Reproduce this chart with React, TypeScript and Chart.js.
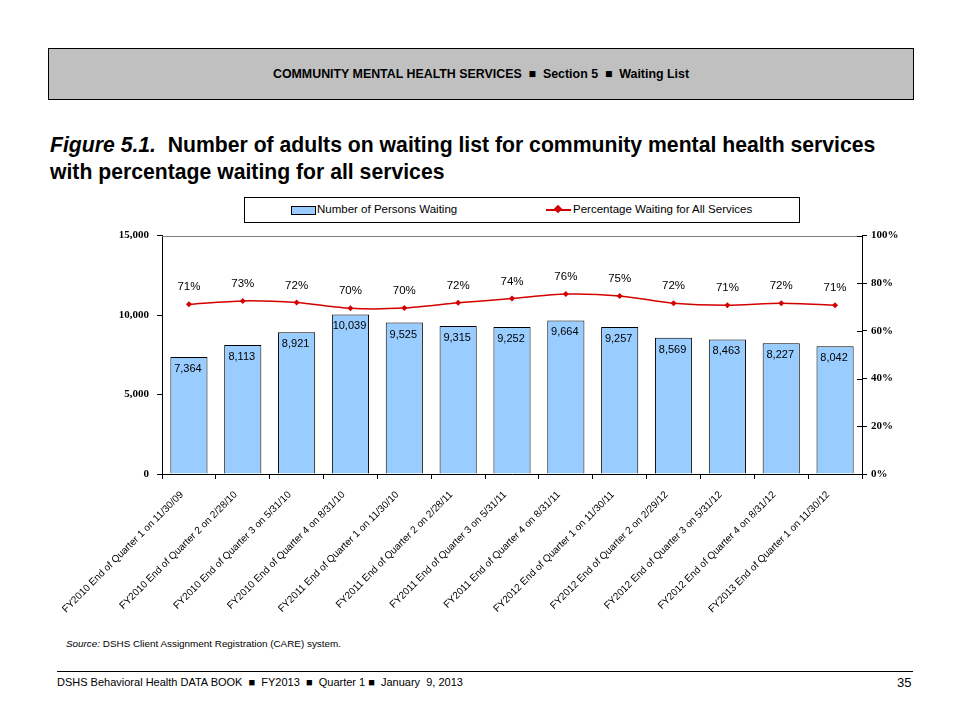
import React, { useEffect, useRef } from 'react';
import { Chart, registerables } from 'chart.js';

Chart.register(...registerables);

const categories = [
  'FY2010 End of Quarter 1 on 11/30/09',
  'FY2010 End of Quarter 2 on 2/28/10',
  'FY2010 End of Quarter 3 on 5/31/10',
  'FY2010 End of Quarter 4 on 8/31/10',
  'FY2011 End of Quarter 1 on 11/30/10',
  'FY2011 End of Quarter 2 on 2/28/11',
  'FY2011 End of Quarter 3 on 5/31/11',
  'FY2011 End of Quarter 4 on 8/31/11',
  'FY2012 End of Quarter 1 on 11/30/11',
  'FY2012 End of Quarter 2 on 2/29/12',
  'FY2012 End of Quarter 3 on 5/31/12',
  'FY2012 End of Quarter 4 on 8/31/12',
  'FY2013 End of Quarter 1 on 11/30/12',
];
const personsWaiting = [7364, 8113, 8921, 10039, 9525, 9315, 9252, 9664, 9257, 8569, 8463, 8227, 8042];
const percentWaiting = [71.2, 72.6, 71.9, 69.5, 69.6, 71.8, 73.6, 75.5, 74.7, 71.6, 70.8, 71.6, 70.8];
const percentLabels = ['71%', '73%', '72%', '70%', '70%', '72%', '74%', '76%', '75%', '72%', '71%', '72%', '71%'];
const leftTickStep = 5000;
const leftMax = 15000;
const rightTickStep = 20;
const rightMax = 100;

const SANS = '"Liberation Sans", Arial, sans-serif';
const SERIF = '"Liberation Serif", "Times New Roman", serif';

const labelPlugin = {
  id: 'customLabels',
  afterDatasetsDraw(chart: any) {
    const ctx = chart.ctx;
    ctx.save();
    ctx.fillStyle = '#000';
    ctx.font = `11px ${SANS}`;
    ctx.textAlign = 'center';
    ctx.textBaseline = 'alphabetic';
    const barMeta = chart.getDatasetMeta(0);
    barMeta.data.forEach((bar: any, i: number) => {
      ctx.fillText(personsWaiting[i].toLocaleString('en-US'), bar.x - 1, bar.y + 15);
    });
    ctx.font = `11.5px ${SANS}`;
    const lineMeta = chart.getDatasetMeta(1);
    lineMeta.data.forEach((pt: any, i: number) => {
      ctx.fillText(percentLabels[i], pt.x, pt.y - 14);
    });
    ctx.restore();
  },
  afterDraw(chart: any) {
    const ctx = chart.ctx;
    const a = chart.chartArea;
    ctx.save();
    ctx.strokeStyle = '#808080';
    ctx.lineWidth = 1;
    ctx.beginPath();
    ctx.moveTo(a.left, Math.round(a.top) + 0.5);
    ctx.lineTo(a.right, Math.round(a.top) + 0.5);
    ctx.stroke();
    const y1 = chart.scales.y1;
    ctx.strokeStyle = '#000';
    y1.ticks.forEach((t: any) => {
      const py = Math.round(y1.getPixelForValue(t.value)) + 0.5;
      ctx.beginPath();
      ctx.moveTo(a.right - 5, py);
      ctx.lineTo(a.right, py);
      ctx.stroke();
    });
    ctx.restore();
  },
};

function ChartCanvas() {
  const ref = useRef<HTMLCanvasElement>(null);
  useEffect(() => {
    if (!ref.current) return;
    const chart = new Chart(ref.current, {
      type: 'bar',
      data: {
        labels: categories,
        datasets: [
          {
            type: 'bar',
            label: 'Number of Persons Waiting',
            data: personsWaiting,
            backgroundColor: '#99ccff',
            borderColor: '#000000',
            borderWidth: 1,
            barPercentage: 0.69,
            categoryPercentage: 1,
            yAxisID: 'y',
            order: 2,
          },
          {
            type: 'line',
            label: 'Percentage Waiting for All Services',
            data: percentWaiting,
            borderColor: '#d40000',
            backgroundColor: '#d40000',
            borderWidth: 1.5,
            pointRadius: 3,
            pointStyle: 'rectRot',
            pointBorderWidth: 0,
            tension: 0.25,
            yAxisID: 'y1',
            order: 1,
          } as any,
        ],
      },
      options: {
        responsive: false,
        animation: false,
        layout: { padding: { top: 10, left: 0, right: 0, bottom: 0 } },
        plugins: {
          legend: { display: false },
          tooltip: { enabled: false },
        },
        scales: {
          x: {
            grid: { display: true, drawOnChartArea: false, tickLength: 5, color: '#000' },
            border: { display: true, color: '#000' },
            ticks: {
              autoSkip: false,
              maxRotation: 45,
              minRotation: 45,
              color: '#000',
              font: { family: SANS, size: 10 },
              padding: 10,
              labelOffset: -7,
            },
            afterFit: (s: any) => { s.height = 152; },
          },
          y: {
            position: 'left',
            min: 0,
            max: leftMax,
            grid: { display: true, drawOnChartArea: false, tickLength: 5, color: '#000' },
            border: { display: true, color: '#000' },
            ticks: {
              stepSize: leftTickStep,
              color: '#000',
              padding: 8,
              font: { family: SERIF, size: 11, weight: 'bold' },
              callback: (v: any) => Number(v).toLocaleString('en-US'),
            },
            afterFit: (s: any) => { s.width = 122; },
          },
          y1: {
            position: 'right',
            min: 0,
            max: rightMax,
            grid: { display: true, drawOnChartArea: false, tickLength: 5, color: '#000' },
            border: { display: true, color: '#000' },
            ticks: {
              stepSize: rightTickStep,
              color: '#000',
              padding: 4,
              font: { family: SERIF, size: 11, weight: 'bold' },
              callback: (v: any) => `${v}%`,
            },
            afterFit: (s: any) => { s.width = 58; },
          },
        },
      },
      plugins: [labelPlugin],
    });
    return () => chart.destroy();
  }, []);
  return (
    <canvas
      ref={ref}
      width={880}
      height={405}
      style={{ position: 'absolute', left: 40, top: 221, width: 880, height: 405 }}
    />
  );
}

export default function App() {
  return (
    <div
      style={{
        position: 'absolute',
        left: 0,
        top: 0,
        width: 960,
        height: 720,
        background: '#fff',
        fontFamily: SANS,
        overflow: 'hidden',
      }}
    >
      <div
        style={{
          position: 'absolute',
          left: 48,
          top: 48,
          width: 864,
          height: 50,
          background: '#c0c0c0',
          border: '1px solid #000',
          display: 'flex',
          alignItems: 'center',
          justifyContent: 'center',
          fontSize: 12.4,
          fontWeight: 'bold',
          color: '#000',
          whiteSpace: 'pre',
        }}
      >
        {'COMMUNITY MENTAL HEALTH SERVICES  ■  Section 5  ■  Waiting List'}
      </div>
      <div
        style={{
          position: 'absolute',
          left: 50,
          top: 131,
          width: 900,
          fontSize: 21.2,
          fontWeight: 'bold',
          lineHeight: '27px',
          color: '#000',
          whiteSpace: 'nowrap',
        }}
      >
        <i>Figure 5.1.</i>&nbsp; Number of adults on waiting list for community mental health services
        <br />
        with percentage waiting for all services
      </div>
      <div
        style={{
          position: 'absolute',
          left: 244,
          top: 197,
          width: 554,
          height: 24,
          border: '1px solid #000',
          fontSize: 11.5,
          color: '#000',
        }}
      >
        <div style={{ position: 'absolute', left: 46, top: 8, width: 23, height: 7, background: '#99ccff', border: '1px solid #000' }} />
        <div style={{ position: 'absolute', left: 72, top: 5, whiteSpace: 'nowrap' }}>Number of Persons Waiting</div>
        <div style={{ position: 'absolute', left: 301, top: 11, width: 25, height: 1.5, background: '#d40000' }} />
        <div
          style={{
            position: 'absolute',
            left: 310,
            top: 8,
            width: 6,
            height: 6,
            background: '#d40000',
            transform: 'rotate(45deg)',
          }}
        />
        <div style={{ position: 'absolute', left: 328, top: 5, whiteSpace: 'nowrap' }}>Percentage Waiting for All Services</div>
      </div>
      <ChartCanvas />
      <div style={{ position: 'absolute', left: 66, top: 638, fontSize: 9.9, color: '#000', whiteSpace: 'nowrap' }}>
        <i>Source:</i> DSHS Client Assignment Registration (CARE) system.
      </div>
      <div style={{ position: 'absolute', left: 57, top: 671, width: 856, height: 1, background: '#000' }} />
      <div style={{ position: 'absolute', left: 57, top: 676, fontSize: 11, color: '#000', whiteSpace: 'pre' }}>
        {'DSHS Behavioral Health DATA BOOK  ■  FY2013  ■  Quarter 1 ■  January  9, 2013'}
      </div>
      <div style={{ position: 'absolute', left: 897, top: 675, fontSize: 13, color: '#000' }}>35</div>
    </div>
  );
}
